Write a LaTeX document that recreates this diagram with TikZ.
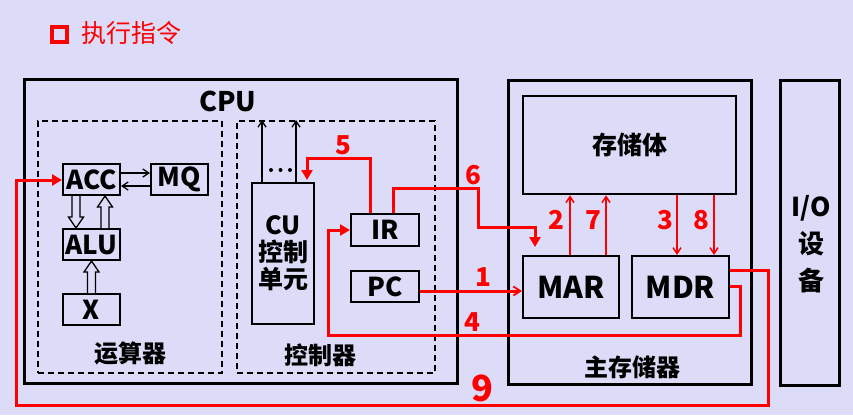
\documentclass[tikz,border=0pt]{standalone}
\usepackage{fontspec}
\setmainfont{Noto Sans CJK SC}
\usetikzlibrary{arrows.meta,calc}
\definecolor{bg}{RGB}{220,220,248}
\definecolor{rd}{RGB}{255,0,0}
\tikzset{
  box/.style={draw, line width=2pt, inner sep=0pt, font=\bfseries\fontsize{26}{28}\selectfont},
  bigbox/.style={draw, line width=3pt, inner sep=0pt},
  dbox/.style={draw, line width=2pt, dash pattern=on 6pt off 4pt, inner sep=0pt},
  lbl/.style={font=\bfseries\fontsize{24}{26}\selectfont, inner sep=0pt},
  num/.style={text=rd, font=\bfseries\fontsize{26}{28}\selectfont, inner sep=0pt},
  redln/.style={draw=rd, line width=3pt, line join=miter},
  redarr/.style={redln, -{Triangle[width=11pt,length=10pt]}},
  thinred/.style={draw=rd, line width=2pt, -{Straight Barb[length=6pt,width=8pt,line width=1.5pt]}},
  thinblk/.style={draw=black, line width=1.6pt, -{Straight Barb[length=6pt,width=8pt,line width=1.3pt]}},
  blk/.style={line width=1.3pt, fill=bg},
}
\newcommand\blockarrow[2]{%
  \draw[blk] let \p1=#1, \p2=#2, \n1={ifthenelse(\y2>\y1,1,-1)} in
    (\x1-4pt,\y1) -- ({\x1-4pt},{\y2-\n1*11pt}) -- ({\x1-7.5pt},{\y2-\n1*11pt}) -- (\x1,\y2)
    -- ({\x1+7.5pt},{\y2-\n1*11pt}) -- ({\x1+4pt},{\y2-\n1*11pt}) -- (\x1+4pt,\y1);}
\begin{document}
\begin{tikzpicture}[x=1pt,y=-1pt]
\fill[bg] (0,0) rectangle (853,415);
\useasboundingbox (0,0) rectangle (853,415);

% title
\node[draw=rd, line width=4pt, minimum size=15pt, inner sep=0pt] (sq) at (59,34) {};
\node[text=rd, font=\fontsize{25}{27}\selectfont, anchor=west, inner sep=0pt] (title) at (81,33) {执行指令};

% big boxes
\node[bigbox, minimum width=433, minimum height=304] (cpu) at (240.5,231) {};
\node[lbl, font=\bfseries\fontsize{27}{29}\selectfont] (cpulbl) at (228,101) {CPU};
\node[bigbox, minimum width=243, minimum height=304] (mem) at (629.5,232) {};
\node[bigbox, minimum width=59, minimum height=305] (io) at (809.5,232.5) {};
\node[lbl, align=center, font=\bfseries\fontsize{26}{37}\selectfont] (iolbl) at (811,244) {I/O\\设\\备};
\node[lbl] (memlbl) at (632,367) {主存储器};

% dashed boxes
\node[dbox, minimum width=184, minimum height=252] (alusec) at (130,247) {};
\node[dbox, minimum width=198, minimum height=252] (ctrl) at (336,247) {};
\node[lbl] (alulbl) at (130,353) {运算器};
\node[lbl] (ctrllbl) at (320,355) {控制器};

% storage
\node[box, line width=2.5pt, minimum width=213, minimum height=98, font=\bfseries\fontsize{25}{27}\selectfont] (stor) at (629.5,145) {存储体};
\node[box, minimum width=96, minimum height=62, font=\bfseries\fontsize{30}{32}\selectfont] (mar) at (571,287) {MAR};
\node[box, minimum width=97, minimum height=62, font=\bfseries\fontsize{30}{32}\selectfont] (mdr) at (680.5,287) {MDR};

% ALU section
\node[box, minimum width=57, minimum height=31] (acc) at (91.5,179.5) {ACC};
\node[box, minimum width=57, minimum height=31] (mq) at (179.5,179.5) {MQ};
\node[box, minimum width=57, minimum height=31] (alu) at (91.5,244.5) {ALU};
\node[box, minimum width=57, minimum height=31] (x) at (91.5,309.5) {X};

% controller
\node[box, minimum width=62, minimum height=141, align=center, font=\bfseries\fontsize{25}{27}\selectfont] (cu) at (283,253.5) {CU\\控制\\单元};
\node[box, minimum width=68, minimum height=32] (ir) at (385,230) {IR};
\node[box, minimum width=68, minimum height=31] (pc) at (385,286.5) {PC};

% black arrows
\draw[thinblk] (acc.east |- 0,173) -- (mq.west |- 0,173);
\draw[thinblk] (mq.west |- 0,186) -- (acc.east |- 0,186);
\blockarrow{(76,0 |- acc.south)}{(76,0 |- alu.north)}
\blockarrow{(105,0 |- alu.north)}{(105,0 |- acc.south)}
\blockarrow{(91.5,0 |- x.north)}{(91.5,0 |- alu.south)}
\draw[thinblk] (262,0 |- cu.north) -- (262,0 |- ctrl.north);
\draw[thinblk] (296,0 |- cu.north) -- (296,0 |- ctrl.north);
\foreach \d in {271,280.5,290} \fill (\d,170) circle (2pt);

% red connectors
\draw[redarr, -{Straight Barb[length=7pt,width=9pt,line width=1.8pt]}] (pc.east |- 0,291) -- (mar.west |- 0,291);
\draw[thinred] (570,0 |- mar.north) -- (570,0 |- stor.south);
\draw[thinred] (606,0 |- mar.north) -- (606,0 |- stor.south);
\draw[thinred] (677,0 |- stor.south) -- (677,0 |- mdr.north);
\draw[thinred] (714,0 |- stor.south) -- (714,0 |- mdr.north);
\draw[redarr] (mdr.east |- 0,286) -- (740,286) -- (740,335) -- (328,335) -- (328,230) -- (ir.west |- 0,230);
\draw[redarr, shorten >=2pt] (370,0 |- ir.north) -- (370,158) -- (307,158) -- (307,0 |- cu.north);
\draw[redarr, shorten >=8pt] (393,0 |- ir.north) -- (393,188) -- (478,188) -- (478,227) -- (535,227) -- (535,0 |- mar.north);
\draw[redarr] (mdr.east |- 0,270) -- (768,270) -- (768,405) -- (16,405) -- (16,180) -- (acc.west |- 0,180);

% numbers
\node[num] (n1) at (483,277) {1};
\node[num] (n2) at (556,220) {2};
\node[num] (n3) at (665,220) {3};
\node[num] (n4) at (472,322) {4};
\node[num] (n5) at (343,145) {5};
\node[num] (n6) at (473,175) {6};
\node[num] (n7) at (593,220) {7};
\node[num] (n8) at (701,220) {8};
\node[num, font=\bfseries\fontsize{36}{38}\selectfont] (n9) at (482,388) {9};
\end{tikzpicture}
\end{document}
